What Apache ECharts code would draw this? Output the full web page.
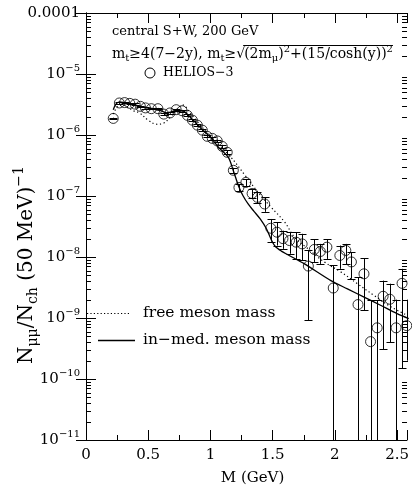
<!DOCTYPE html>
<html>
<head>
<meta charset="utf-8">
<script src="https://cdn.jsdelivr.net/npm/echarts@6/dist/echarts.min.js"></script>
<style>
  * { margin: 0; padding: 0; }
  body { background: #fff; }
  #chart-container { width: 412px; height: 491px; }
</style>
</head>
<body>
<div id="chart-container"></div>
<script>
// HELIOS-3 dimuon data (mass in GeV, yield per 50 MeV)
var massData = [0.219, 0.268, 0.31, 0.352, 0.395, 0.437, 0.478, 0.525, 0.578, 0.625, 0.675, 0.725,
  0.772, 0.815, 0.855, 0.895, 0.935, 0.975, 1.015, 1.055, 1.095, 1.135, 1.184, 1.229, 1.285, 1.335,
  1.378, 1.436, 1.485, 1.535, 1.583, 1.636, 1.689, 1.737, 1.787, 1.835, 1.883, 1.936, 1.987, 2.04,
  2.088, 2.133, 2.186, 2.234, 2.287, 2.34, 2.388, 2.442, 2.492, 2.54, 2.578]
var yieldData = [1.87e-6, 3.35e-6, 3.4e-6, 3.3e-6, 3.2e-6, 2.95e-6, 2.78e-6, 2.7e-6, 2.7e-6, 2.2e-6, 2.3e-6, 2.6e-6,
  2.5e-6, 2.1e-6, 1.75e-6, 1.45e-6, 1.2e-6, 9.5e-7, 8.8e-7, 8.0e-7, 6.5e-7, 5.2e-7, 2.64e-7, 1.38e-7, 1.67e-7, 1.1e-7,
  9.5e-8, 7.4e-8, 2.96e-8, 2.55e-8, 2.0e-8, 1.86e-8, 1.75e-8, 1.64e-8, 7.1e-9, 1.33e-8, 1.23e-8, 1.45e-8, 3.1e-9, 1.06e-8,
  1.28e-8, 8.3e-9, 1.66e-9, 5.3e-9, 4.1e-10, 6.9e-10, 2.27e-9, 2.03e-9, 6.9e-10, 3.7e-9, 7.5e-10]
// error bar ends (0 = bar reaches zero, below the axis)
var errLow = [1.82e-6, 3.25e-6, 3.3e-6, 3.2e-6, 3.1e-6, 2.86e-6, 2.7e-6, 2.62e-6, 2.62e-6, 2.13e-6, 2.23e-6, 2.52e-6,
  2.42e-6, 2.03e-6, 1.69e-6, 1.4e-6, 1.15e-6, 9.1e-7, 8.4e-7, 7.6e-7, 6.1e-7, 4.8e-7, 2.4e-7, 1.2e-7, 1.45e-7, 9.2e-8,
  7.6e-8, 5.5e-8, 1.79e-8, 1.54e-8, 1.36e-8, 1.13e-8, 9.3e-9, 8.8e-9, 9.2e-10, 8.3e-9, 7.7e-9, 9.3e-9, 0, 6.4e-9,
  7.7e-9, 4.4e-9, 0, 1.34e-9, 0, 0, 3.1e-10, 4.0e-10, 0, 1.5e-10, 2.0e-10]
var errHigh = [1.92e-6, 3.45e-6, 3.5e-6, 3.4e-6, 3.3e-6, 3.04e-6, 2.86e-6, 2.78e-6, 2.78e-6, 2.27e-6, 2.37e-6, 2.68e-6,
  2.58e-6, 2.17e-6, 1.81e-6, 1.5e-6, 1.25e-6, 9.9e-7, 9.2e-7, 8.4e-7, 6.9e-7, 5.6e-7, 2.9e-7, 1.55e-7, 1.9e-7, 1.3e-7,
  1.15e-7, 9.5e-8, 4.2e-8, 3.7e-8, 2.7e-8, 2.55e-8, 2.55e-8, 2.4e-8, 1.28e-8, 1.94e-8, 1.64e-8, 1.94e-8, 7.3e-9, 1.54e-8,
  1.64e-8, 1.2e-8, 4.7e-9, 9.6e-9, 1.95e-9, 1.95e-9, 4.1e-9, 3.65e-9, 2.0e-9, 6.4e-9, 2.0e-9]

// model curves
var freeMass = [0.22, 0.26, 0.3, 0.34, 0.38, 0.43, 0.5, 0.57, 0.62, 0.68, 0.73, 0.78, 0.83, 0.89, 1.01,
  1.157, 1.277, 1.383, 1.489, 1.596, 1.676, 1.769, 1.915, 2.048, 2.181, 2.314, 2.447, 2.58]
var freeYield = [2.2e-6, 3.0e-6, 3.1e-6, 2.8e-6, 2.5e-6, 2.3e-6, 1.75e-6, 1.5e-6, 1.55e-6, 2.0e-6, 2.6e-6, 3.1e-6, 2.4e-6, 1.7e-6, 9.0e-7,
  4.5e-7, 2.2e-7, 1.15e-7, 6.5e-8, 3.75e-8, 2.1e-8, 1.45e-8, 8.3e-9, 5.7e-9, 3.65e-9, 2.35e-9, 1.54e-9, 1.11e-9]
var medMass = [0.219, 0.24, 0.27, 0.31, 0.36, 0.44, 0.53, 0.6, 0.65, 0.72, 0.77, 0.85, 0.93, 1.0, 1.064,
  1.144, 1.184, 1.229, 1.263, 1.303, 1.35, 1.4, 1.45, 1.49, 1.52, 1.57, 1.622, 1.756, 1.968, 2.101, 2.235, 2.367, 2.5, 2.594]
var medYield = [2.6e-6, 3.2e-6, 3.5e-6, 3.4e-6, 3.25e-6, 2.95e-6, 2.7e-6, 2.5e-6, 2.3e-6, 2.5e-6, 2.5e-6, 1.85e-6, 1.25e-6, 9.2e-7, 6.3e-7,
  4.3e-7, 2.6e-7, 1.4e-7, 1.0e-7, 7.4e-8, 5.6e-8, 4.2e-8, 2.9e-8, 1.9e-8, 1.5e-8, 1.25e-8, 1.09e-8, 7.7e-9, 4.1e-9, 3.0e-9, 2.2e-9, 1.62e-9, 1.18e-9, 9.8e-10]

var yMin = 1e-11
var yMax = 1e-4
var FONT = 'DejaVu Serif'

// log minor tick positions 2..9 per decade
var minorTickValues = []
for (var e = -11; e < -4; e++) {
  for (var k = 2; k <= 9; k++) minorTickValues.push([0, k * Math.pow(10, e)])
}

var pointData = massData.map(function (m, i) { return [m, yieldData[i]] })
var errData = massData.map(function (m, i) { return [m, errLow[i], errHigh[i], yieldData[i]] })
var freeData = freeMass.map(function (m, i) { return [m, freeYield[i]] })
var medData = medMass.map(function (m, i) { return [m, medYield[i]] })

// measure the formula pieces so the root sign and its bar line up
var ctx = document.createElement('canvas').getContext('2d')
function textW(str, size) {
  ctx.font = size + 'px "DejaVu Serif"'
  return ctx.measureText(str).width
}
var F = 14, FS = 10
var part1W = textW('m', F) + textW('t', FS) + textW('\u22654(7\u22122y), m', F) + textW('t', FS) + textW('\u2265\u221A', F)
var part2W = textW('(2m', F) + textW('\u03BC', FS) + textW(')', F) + textW('2', FS) + textW('+(15/cosh(y))', F) + textW('2', FS)
var fx = 112
var rootX = fx + part1W - 1

var chartDom = document.getElementById('chart-container')
var myChart = echarts.init(chartDom, null, { renderer: 'canvas' })

function crisp(v) { return Math.round(v) + 0.5 }

function renderErr(params, api) {
  var cs = params.coordSys
  var x = api.coord([api.value(0), api.value(3)])[0]
  var lo = api.value(1)
  var yLo = lo > 0 ? api.coord([0, lo])[1] : cs.y + cs.height
  var yHi = api.coord([0, api.value(2)])[1]
  x = crisp(x)
  var style = { stroke: '#000', lineWidth: 1 }
  var children = [{ type: 'line', shape: { x1: x, y1: yLo, x2: x, y2: yHi }, style: style },
    { type: 'line', shape: { x1: x - 4, y1: crisp(yHi), x2: x + 4, y2: crisp(yHi) }, style: style }]
  if (lo > 0) children.push({ type: 'line', shape: { x1: x - 4, y1: crisp(yLo), x2: x + 4, y2: crisp(yLo) }, style: style })
  return { type: 'group', children: children }
}

function renderMinor(params, api) {
  var cs = params.coordSys
  var y = crisp(api.coord([0, api.value(1)])[1])
  var style = { stroke: '#000', lineWidth: 1 }
  return { type: 'group', children: [
    { type: 'line', shape: { x1: cs.x, y1: y, x2: cs.x + 5, y2: y }, style: style },
    { type: 'line', shape: { x1: cs.x + cs.width, y1: y, x2: cs.x + cs.width - 5, y2: y }, style: style }
  ] }
}

var yLabel = {
  fontFamily: FONT, fontSize: 15, color: '#000', margin: 6,
  formatter: function (v) {
    var ex = Math.round(Math.log10(v))
    if (ex === -4) return '0.0001'
    return '10{sup|\u2212' + (-ex) + '}'
  },
  rich: { sup: { fontFamily: FONT, fontSize: 10, padding: [0, 0, 12, 0], color: '#000' } }
}

var axisLine = { show: true, lineStyle: { color: '#000', width: 1 } }
var subStyle = { fontFamily: FONT, fontSize: FS, padding: [8, 0, 0, 0] }
var supStyle = { fontFamily: FONT, fontSize: FS, padding: [0, 0, 9, 0] }

var option = {
  backgroundColor: '#fff',
  animation: false,
  grid: { left: 86, right: 2, top: 13, bottom: 49 },
  xAxis: [
    {
      type: 'value', min: 0, max: 2.58, interval: 0.5, position: 'bottom',
      axisLine: axisLine,
      axisTick: { inside: true, length: 10, lineStyle: { color: '#000' } },
      minorTick: { show: true, splitNumber: 2, length: 5, lineStyle: { color: '#000' } },
      splitLine: { show: false },
      axisLabel: { fontFamily: FONT, fontSize: 15, color: '#000', margin: 8, showMaxLabel: false,
        formatter: function (v) { return String(v) } },
      name: 'M (GeV)', nameLocation: 'middle', nameGap: 31,
      nameTextStyle: { fontFamily: FONT, fontSize: 15, color: '#000', padding: [0, 0, 0, 12] }
    },
    {
      type: 'value', min: 0, max: 2.58, interval: 0.5, position: 'top',
      axisLine: axisLine,
      axisTick: { inside: true, length: 10, lineStyle: { color: '#000' } },
      minorTick: { show: true, splitNumber: 2, length: 5, lineStyle: { color: '#000' } },
      splitLine: { show: false },
      axisLabel: { show: false }
    }
  ],
  yAxis: [
    {
      type: 'log', logBase: 10, min: yMin, max: yMax, interval: 1, position: 'left',
      axisLine: axisLine,
      axisTick: { inside: true, length: 10, lineStyle: { color: '#000' } },
      splitLine: { show: false },
      axisLabel: yLabel
    },
    {
      type: 'log', logBase: 10, min: yMin, max: yMax, interval: 1, position: 'right',
      axisLine: axisLine,
      axisTick: { inside: true, length: 10, lineStyle: { color: '#000' } },
      splitLine: { show: false },
      axisLabel: { show: false }
    }
  ],
  graphic: [
    { type: 'text', left: 112, top: 25, style: { text: 'central S+W, 200 GeV', font: '13px "DejaVu Serif"', fill: '#000' } },
    { type: 'text', x: fx, y: 54, style: {
      text: 'm{s|t}\u22654(7\u22122y), m{s|t}\u2265\u221A', verticalAlign: 'middle',
      font: F + 'px "DejaVu Serif"', fill: '#000', rich: { s: subStyle } } },
    { type: 'text', x: rootX, y: 54, style: {
      text: '(2m{s|\u03BC}){p|2}+(15/cosh(y)){p|2}', verticalAlign: 'middle',
      font: F + 'px "DejaVu Serif"', fill: '#000', rich: { s: subStyle, p: supStyle } } },
    { type: 'line', shape: { x1: rootX - 1, y1: 45.5, x2: rootX + part2W, y2: 45.5 }, style: { stroke: '#000', lineWidth: 1 } },
    { type: 'circle', shape: { cx: 150, cy: 73, r: 5 }, style: { stroke: '#000', fill: 'none', lineWidth: 1 } },
    { type: 'text', x: 163, y: 73, style: { text: 'HELIOS\u22123', verticalAlign: 'middle', font: '12.5px "DejaVu Serif"', fill: '#000' } },
    { type: 'line', shape: { x1: 87, y1: 313.5, x2: 131, y2: 313.5 }, style: { stroke: '#000', lineWidth: 1.2, lineDash: [1.2, 2.2] } },
    { type: 'text', x: 143, y: 313, style: { text: 'free meson mass', verticalAlign: 'middle', font: '15.5px "DejaVu Serif"', fill: '#000' } },
    { type: 'line', shape: { x1: 98, y1: 340.5, x2: 135, y2: 340.5 }, style: { stroke: '#000', lineWidth: 1.3 } },
    { type: 'text', x: 143, y: 340, style: { text: 'in\u2212med. meson mass', verticalAlign: 'middle', font: '15.5px "DejaVu Serif"', fill: '#000' } },
    { type: 'text', x: 27, y: 265, rotation: Math.PI / 2, style: {
      text: 'N{s|\u03BC\u03BC}/N{s|ch} (50 MeV){p|\u22121}',
      font: '20px "DejaVu Serif"', fill: '#000', align: 'center', verticalAlign: 'middle',
      rich: { s: { fontFamily: FONT, fontSize: 14, padding: [13, 0, 0, 0] }, p: { fontFamily: FONT, fontSize: 14, padding: [0, 0, 15, 0] } } } }
  ],
  series: [
    {
      name: 'minor ticks', type: 'custom', renderItem: renderMinor, data: minorTickValues,
      encode: { x: 0, y: 1 }, silent: true, clip: false
    },
    {
      name: 'errors', type: 'custom', renderItem: renderErr, data: errData,
      dimensions: ['m', 'lo', 'hi', 'y'], encode: { x: 0, y: 3 }, silent: true, clip: true
    },
    {
      name: 'HELIOS-3', type: 'scatter', data: pointData, symbol: 'circle', symbolSize: 10,
      itemStyle: { color: 'rgba(0,0,0,0)', borderColor: '#000', borderWidth: 1 }, clip: false
    },
    {
      name: 'free meson mass', type: 'line', data: freeData, smooth: 0.4, showSymbol: false,
      lineStyle: { color: '#000', width: 1.2, type: [1.2, 2.6] }
    },
    {
      name: 'in-med. meson mass', type: 'line', data: medData, smooth: 0.3, showSymbol: false,
      lineStyle: { color: '#000', width: 1.3 }
    }
  ]
}

myChart.setOption(option)
window.addEventListener('resize', myChart.resize)
</script>
</body>
</html>
